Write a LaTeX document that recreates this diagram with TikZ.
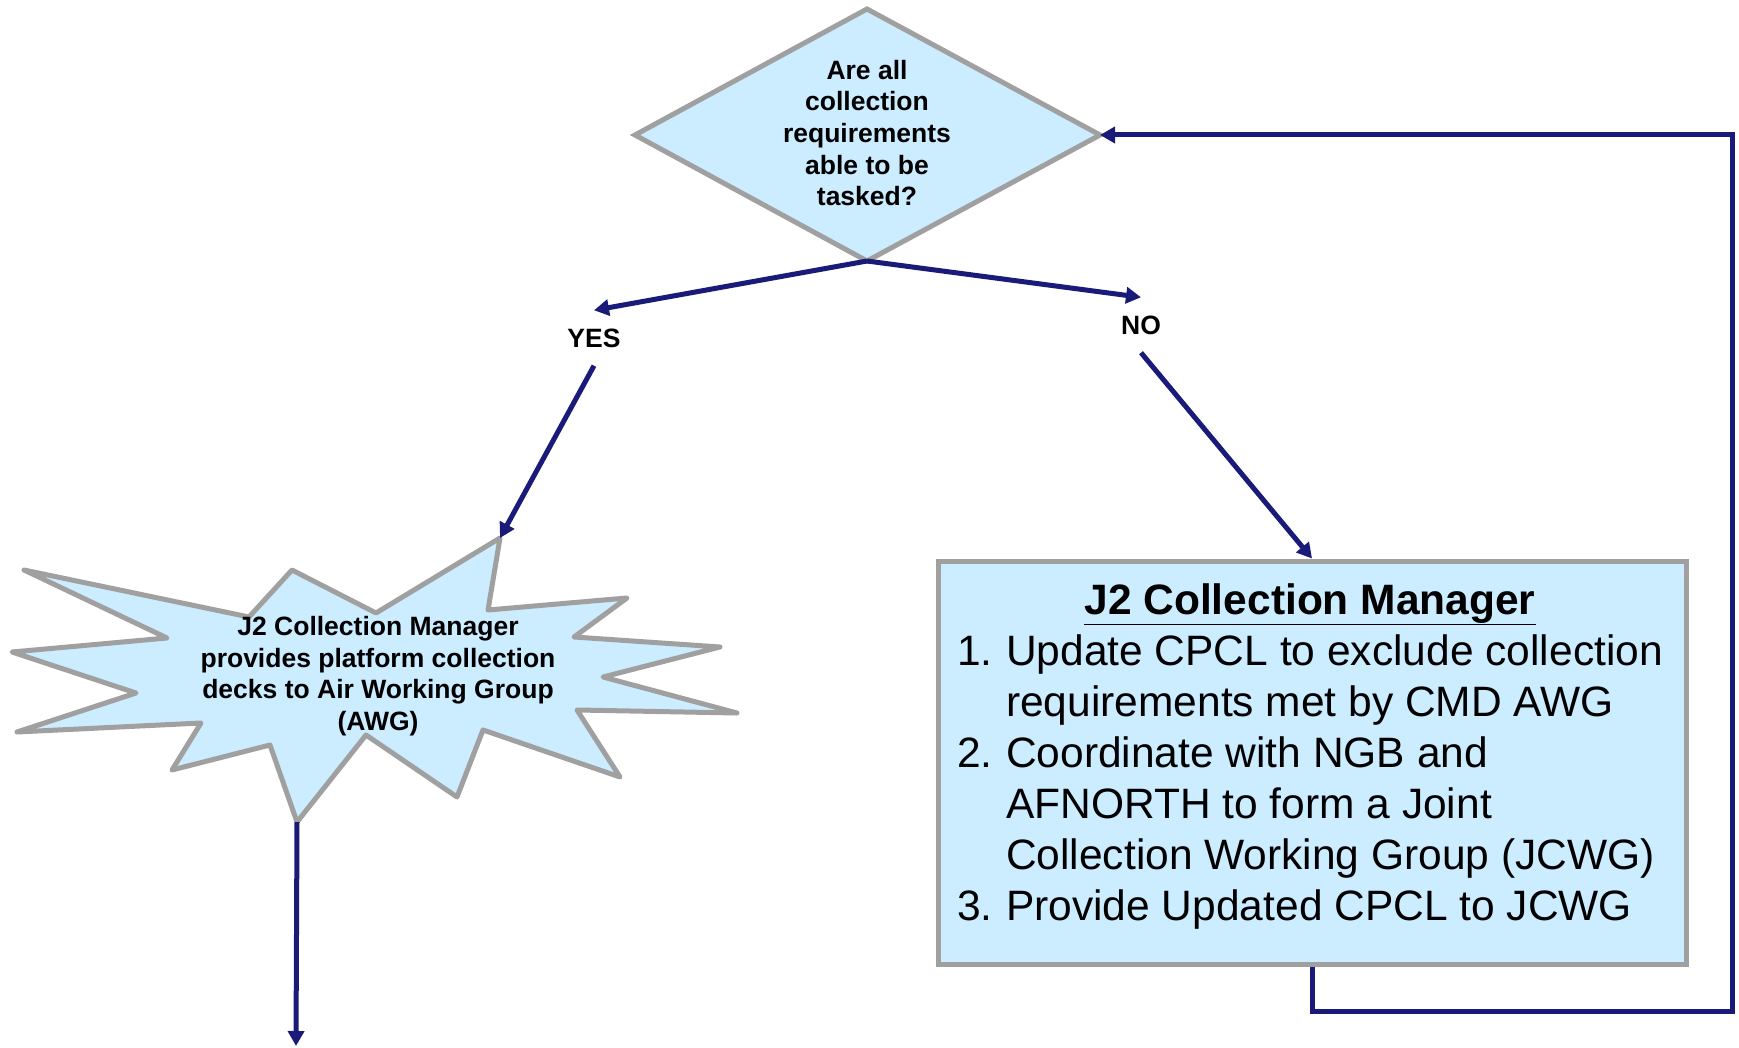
\documentclass[tikz,border=0pt]{standalone}
\usepackage{fontspec}
\setmainfont{Liberation Sans}
\usetikzlibrary{arrows.meta}
\definecolor{fillblue}{RGB}{204,236,255}
\definecolor{edgegray}{RGB}{160,160,160}
\definecolor{navyline}{RGB}{26,26,120}
\begin{document}
\begin{tikzpicture}[x=1pt,y=-1pt,
  shapeline/.style={draw=edgegray, line width=5pt, fill=fillblue, line join=miter},
  conn/.style={draw=navyline, line width=5pt},
  arr/.style={conn, -{Triangle[length=15pt,width=16pt]}},
  smalltext/.style={font=\fontsize{26.5}{31.7}\selectfont\bfseries, align=center, inner sep=0pt},
  labeltext/.style={font=\fontsize{26.5}{31.7}\selectfont\bfseries, inner xsep=0pt, inner ysep=18pt, text height=19pt, text depth=0pt},
]
\useasboundingbox (0,0) rectangle (1739,1048);

% decision diamond
\coordinate (dT) at (867,9);
\coordinate (dR) at (1100,135);
\coordinate (dB) at (867,261);
\coordinate (dL) at (635,135);
\draw[shapeline] (dT) -- (dR) -- (dB) -- (dL) -- cycle;
\node[smalltext] (q) at (867,133) {Are all\\collection\\requirements\\able to be\\tasked?};

% labels
\node[labeltext] (yes) at (594,338) {YES};
\node[labeltext] (no) at (1141,325) {NO};

% starburst
\coordinate (s1) at (500,538);
\coordinate (s2) at (488,610);
\coordinate (s3) at (627,598);
\coordinate (s4) at (574,637);
\coordinate (s5) at (720,647);
\coordinate (s6) at (603,677);
\coordinate (s7) at (737,713);
\coordinate (s8) at (577,710);
\coordinate (s9) at (620,777);
\coordinate (s10) at (483,730);
\coordinate (s11) at (457,797);
\coordinate (s12) at (366,735);
\coordinate (s13) at (297,822);
\coordinate (s14) at (270,745);
\coordinate (s15) at (172,770);
\coordinate (s16) at (201,723);
\coordinate (s17) at (17,732);
\coordinate (s18) at (136,693);
\coordinate (s19) at (12,652);
\coordinate (s20) at (167,638);
\coordinate (s21) at (24,570);
\coordinate (s22) at (249,617);
\coordinate (s23) at (292,570);
\coordinate (s24) at (376,613);
\draw[shapeline, line join=round] (s1) -- (s2) -- (s3) -- (s4) -- (s5) -- (s6) -- (s7) -- (s8) -- (s9) -- (s10) -- (s11) -- (s12) -- (s13) -- (s14) -- (s15) -- (s16) -- (s17) -- (s18) -- (s19) -- (s20) -- (s21) -- (s22) -- (s23) -- (s24) -- cycle;
\node[smalltext] (awg) at (378,676) {J2 Collection Manager\\provides platform collection\\decks to Air Working Group\\(AWG)};

% box
\node[draw=edgegray, line width=5pt, fill=fillblue, minimum width=748pt, minimum height=403pt, inner sep=0pt] (box) at (1312,762.5) {};
\node[inner sep=0pt, font=\fontsize{42.5}{51}\selectfont] (boxtext) at (1310,757) {%
\begin{tabular}{@{}p{49pt}@{}l@{}}
\multicolumn{2}{c}{\bfseries\underline{J2 Collection Manager}}\\
1. & Update CPCL to exclude collection\\
   & requirements met by CMD AWG\\
2. & Coordinate with NGB and\\
   & AFNORTH to form a Joint\\
   & Collection Working Group (JCWG)\\
3. & Provide Updated CPCL to JCWG
\end{tabular}};

% connectors
\coordinate (loopc) at (1732,1011);
\coordinate (outend) at (296,1046);
\draw[arr] (dB) -- (yes.north);
\draw[arr] (dB) -- (no.north);
\draw[arr] (yes.south) -- (s1);
\draw[arr] (no.south) -- (box.north);
\draw[arr] (box.south) |- (loopc) |- (dR);
\draw[arr] (s13) -- (outend);
\end{tikzpicture}
\end{document}
